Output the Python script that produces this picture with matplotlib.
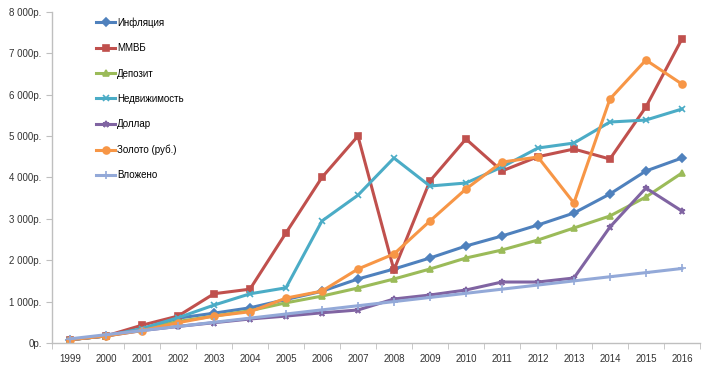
import matplotlib
matplotlib.use("Agg")
import matplotlib.pyplot as plt
from matplotlib.ticker import FuncFormatter, MultipleLocator

plt.rcParams['font.family'] = ['Liberation Sans', 'DejaVu Sans']

years = [str(y) for y in range(1999, 2017)]

inflation = [80, 170, 330, 600, 720, 850, 1050, 1250, 1546, 1787, 2053, 2343, 2585, 2850, 3140, 3600, 4155, 4469]
mmvb = [80, 170, 430, 650, 1190, 1300, 2658, 4000, 5000, 1763, 3913, 4928, 4155, 4500, 4686, 4444, 5700, 7343]
deposit = [80, 170, 320, 520, 650, 780, 970, 1133, 1328, 1546, 1787, 2053, 2246, 2488, 2778, 3068, 3527, 4106]
realty = [80, 170, 350, 610, 915, 1188, 1333, 2947, 3570, 4469, 3792, 3865, 4250, 4710, 4830, 5338, 5386, 5652]
dollar = [80, 170, 300, 400, 490, 580, 650, 730, 797, 1063, 1159, 1280, 1473, 1473, 1570, 2800, 3744, 3188]
gold = [80, 170, 300, 490, 650, 755, 1084, 1253, 1787, 2150, 2947, 3720, 4370, 4493, 3382, 5894, 6836, 6256]
invested = [100, 200, 300, 400, 500, 600, 700, 800, 900, 1000, 1100, 1200, 1300, 1400, 1500, 1600, 1700, 1800]

series = [
    ("Инфляция", inflation, "#4F81BD", "D", 4),
    ("ММВБ", mmvb, "#C0504D", "s", 5),
    ("Депозит", deposit, "#9BBB59", "^", 5),
    ("Недвижимость", realty, "#4BACC6", "x", 5),
    ("Доллар", dollar, "#8064A2", "*", 5),
    ("Золото (руб.)", gold, "#F79646", "o", 5),
    ("Вложено", invested, "#93A9D8", "+", 6),
]

fig = plt.figure(figsize=(7.12, 3.70), dpi=100, facecolor='white')
ax = fig.add_axes([0.073, 0.073, 0.91, 0.895])

x = list(range(len(years)))
for name, vals, color, marker, ms in series:
    ax.plot(x, vals, color=color, lw=2.2, marker=marker, markersize=ms,
            markeredgewidth=1.2, label=name)

ax.set_xlim(-0.5, len(years) - 0.5)
ax.set_ylim(0, 8000)
ax.yaxis.set_major_locator(MultipleLocator(1000))

def rub(v, pos):
    v = int(round(v))
    if v == 0:
        return "0р."
    return "{:,}р.".format(v).replace(",", " ")

ax.yaxis.set_major_formatter(FuncFormatter(rub))
ax.set_xticks(x)
ax.set_xticklabels(years)
ax.set_xticks([i - 0.5 for i in range(len(years) + 1)], minor=True)
ax.tick_params(axis='x', which='major', length=0, labelsize=7, pad=8, colors='#333333')
ax.tick_params(axis='x', which='minor', length=4, color='#BFBFBF')
ax.tick_params(axis='y', length=4, color='#BFBFBF', labelsize=7, labelcolor='#333333')

for s in ['top', 'right']:
    ax.spines[s].set_visible(False)
for s in ['left', 'bottom']:
    ax.spines[s].set_color('#BFBFBF')
    ax.spines[s].set_linewidth(1.0)

leg = ax.legend(loc='upper left', bbox_to_anchor=(0.055, 1.01), frameon=False,
                fontsize=7, labelspacing=1.58, handlelength=1.9,
                handletextpad=0.2)

fig.savefig("out.png", dpi=100, facecolor='white')
